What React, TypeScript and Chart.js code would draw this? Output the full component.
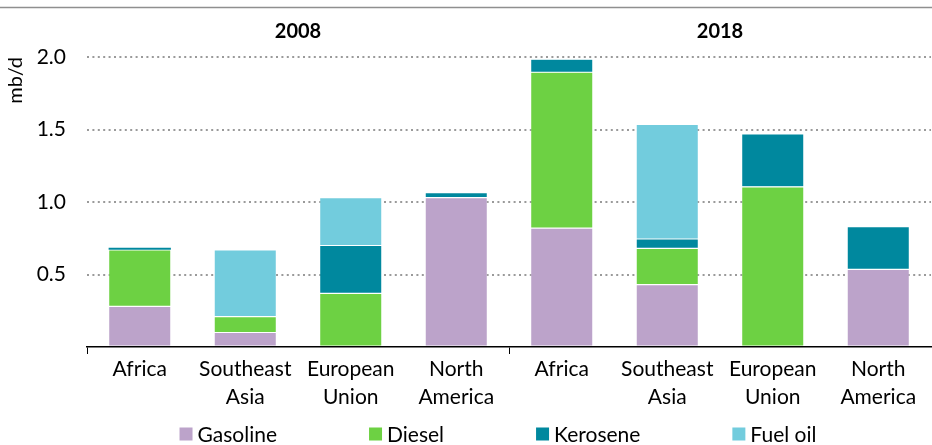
import React, { useEffect, useRef } from "react";
import { Chart, registerables } from "chart.js";

Chart.register(...registerables);

const years = ["2008", "2018"];
const regions: string[][] = [["Africa"], ["Southeast", "Asia"], ["European", "Union"], ["North", "America"]];
const categories: string[][] = [...regions, ...regions];

const gasoline = [0.28, 0.10, 0, 1.03, 0.82, 0.43, 0, 0.535];
const diesel = [0.39, 0.11, 0.37, 0, 1.075, 0.25, 1.105, 0];
const kerosene = [0.015, 0, 0.33, 0.035, 0.09, 0.065, 0.365, 0.295];
const fuelOil = [0, 0.46, 0.33, 0, 0, 0.79, 0, 0];

const seriesNames = ["Gasoline", "Diesel", "Kerosene", "Fuel oil"];
const seriesColors = ["#BCA3CA", "#6DD143", "#00889E", "#72CCDD"];
const yTicks = [0, 0.5, 1.0, 1.5, 2.0];

const FONT = "Lato, 'Liberation Sans', sans-serif";

const decorations = {
  id: "decorations",
  afterDraw(chart: any) {
    const { ctx, chartArea, width } = chart;
    ctx.save();
    // top rule
    ctx.strokeStyle = "#8f8f8f";
    ctx.lineWidth = 1.5;
    ctx.beginPath();
    ctx.moveTo(0, 7.5);
    ctx.lineTo(width, 7.5);
    ctx.stroke();
    // year labels
    ctx.fillStyle = "#000";
    ctx.font = `bold 20px ${FONT}`;
    ctx.textAlign = "center";
    ctx.textBaseline = "middle";
    const mid = (chartArea.left + chartArea.right) / 2;
    ctx.fillText(years[0], (chartArea.left + mid) / 2, 32);
    ctx.fillText(years[1], (mid + chartArea.right) / 2, 32);
    // legend
    ctx.font = `21px ${FONT}`;
    ctx.textAlign = "left";
    const box = 13;
    const gapBoxText = 5;
    const gapItems = 92;
    const widths = seriesNames.map((n) => box + gapBoxText + ctx.measureText(n).width);
    const total = widths.reduce((a, b) => a + b, 0) + gapItems * (widths.length - 1);
    let x = 498 - total / 2;
    const y = 434;
    seriesNames.forEach((n, i) => {
      ctx.fillStyle = seriesColors[i];
      ctx.fillRect(x, y - box / 2, box, box);
      ctx.fillStyle = "#000";
      ctx.fillText(n, x + box + gapBoxText, y + 1);
      x += widths[i] + gapItems;
    });
    ctx.restore();
  },
};

export default function App() {
  const ref = useRef<HTMLCanvasElement | null>(null);

  useEffect(() => {
    document.body.style.margin = "0";
    if (!ref.current) return;
    const values = [gasoline, diesel, kerosene, fuelOil];
    const chart = new Chart(ref.current, {
      type: "bar",
      data: {
        labels: categories as any,
        datasets: seriesNames.map((name, i) => ({
          label: name,
          data: values[i],
          backgroundColor: seriesColors[i],
          borderColor: "rgba(255,255,255,0.45)",
          borderWidth: (ctx: any) => (ctx.raw === 0 ? 0 : ctx.raw < 0.03 ? 0 : 0.6),
          borderSkipped: false,
          categoryPercentage: 1,
          barPercentage: 0.59,
        })),
      },
      options: {
        animation: false,
        responsive: false,
        maintainAspectRatio: false,
        layout: { padding: { top: 57, left: 0, right: 1, bottom: 28 } },
        plugins: {
          legend: { display: false },
          tooltip: { enabled: false },
        },
        scales: {
          x: {
            stacked: true,
            afterFit: (scale: any) => {
              scale.height = 70;
            },
            grid: {
              drawOnChartArea: false,
              drawTicks: true,
              tickLength: 7,
              color: (ctx: any) => (ctx.index % 4 === 0 ? "#000" : "rgba(0,0,0,0)"),
              lineWidth: 1,
            },
            border: { display: true, color: "#000", width: 1.5 },
            ticks: {
              color: "#000",
              font: { family: FONT, size: 21, lineHeight: 1.3 },
              padding: 2,
              maxRotation: 0,
              autoSkip: false,
            },
          },
          y: {
            stacked: true,
            min: 0,
            max: 2,
            afterFit: (scale: any) => {
              scale.width = 87;
            },
            afterBuildTicks: (scale: any) => {
              scale.ticks = yTicks.map((v) => ({ value: v }));
            },
            grid: {
              drawTicks: false,
              color: (ctx: any) => (ctx.tick && ctx.tick.value === 0 ? "rgba(0,0,0,0)" : "#9a9a9a"),
              lineWidth: 2,
            },
            border: { display: false, dash: [2, 3.4] },
            ticks: {
              color: "#000",
              padding: 21,
              font: { family: FONT, size: 21 },
              callback: (v: any) => (Number(v) === 0 ? "" : Number(v).toFixed(1)),
            },
            title: {
              display: true,
              text: "mb/d",
              color: "#000",
              align: "end",
              font: { family: FONT, size: 20 },
              padding: { top: 4, bottom: 0 },
            },
          },
        },
      },
      plugins: [decorations],
    } as any);
    return () => chart.destroy();
  }, []);

  return (
    <div style={{ width: 932, height: 445, position: "relative", background: "#fff" }}>
      <canvas ref={ref} width={932} height={445} style={{ width: 932, height: 445, display: "block" }} />
    </div>
  );
}
